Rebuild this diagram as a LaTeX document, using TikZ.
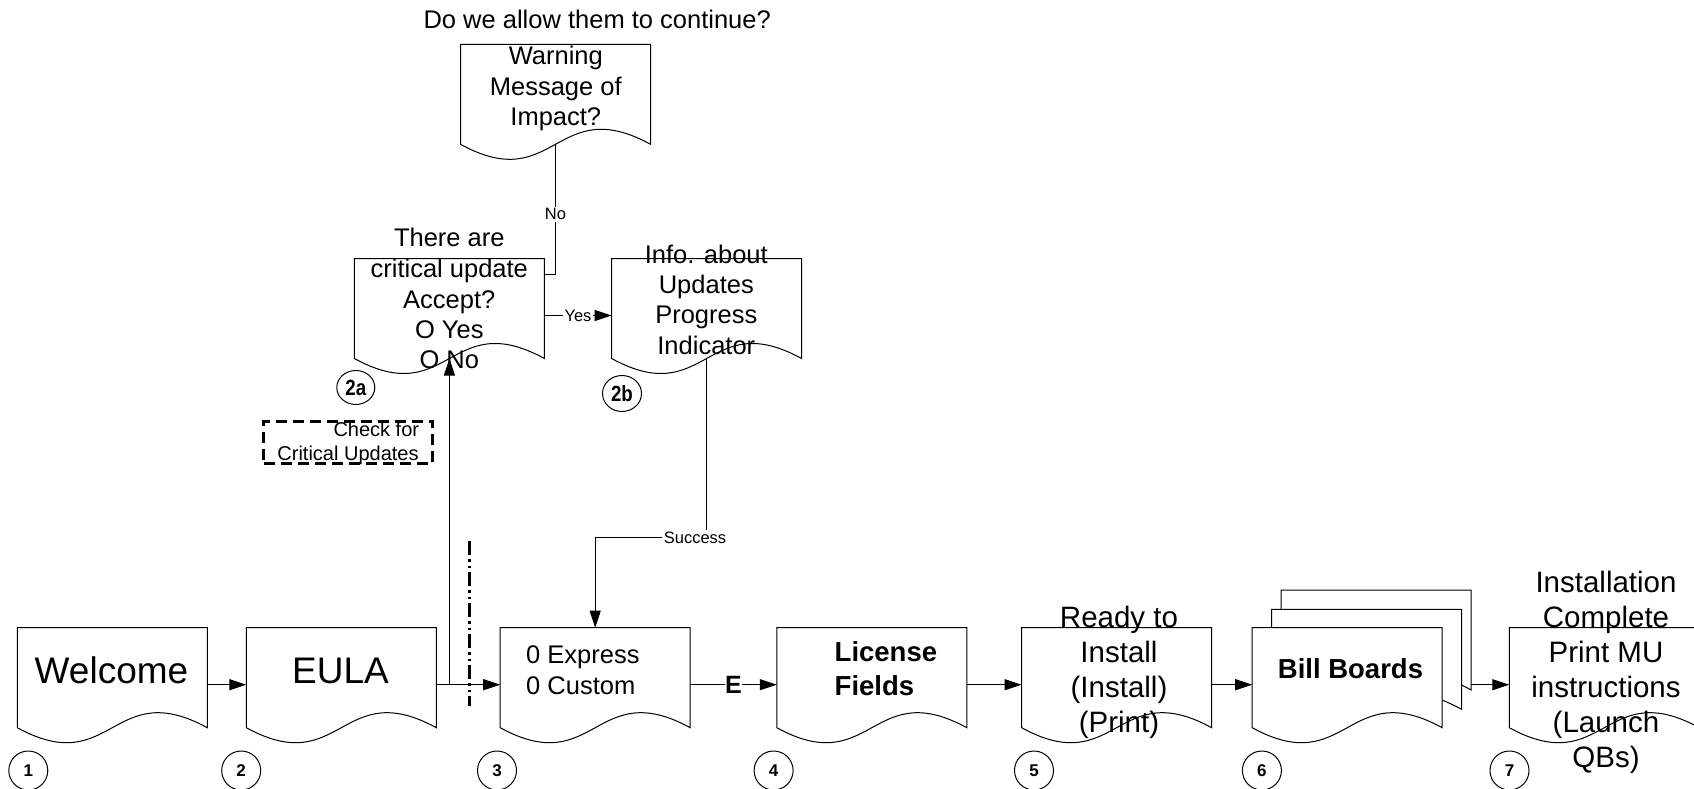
\documentclass[tikz,border=0pt]{standalone}
\usepackage{fontspec}
\setmainfont{Liberation Sans}
\newfontfamily\narrowfont[FakeStretch=0.85]{Liberation Sans}
\usetikzlibrary{arrows.meta,calc,shapes.geometric}

\newcommand\bigf{\fontsize{37}{44}\selectfont}
\newcommand\midf{\fontsize{25.5}{30}\selectfont}
\newcommand\boldf{\bfseries\fontsize{27.5}{33}\selectfont}
\newcommand\regf{\fontsize{29.5}{34}\selectfont}
\newcommand\smallf{\fontsize{16.5}{19}\selectfont}

\newcommand\docshape[1]{%
  \path[docline] (#1.north west) -- (#1.north east) -- ($(#1.north east)+(0,100)$)
    .. controls ($(#1.north)+(0,48)$) and ($(#1.north)+(0,152)$) .. ($(#1.north west)+(0,100)$) -- cycle;
  \coordinate (#1w) at ($(#1.north)+(0,100)$);}

\tikzset{
  docbox/.style={minimum width=190pt, minimum height=114pt, inner sep=0pt, outer sep=0pt},
  docline/.style={draw=black, line width=1pt, fill=white},
  conn/.style={draw=black, line width=1pt},
  arr/.style={conn, -{Triangle[length=17pt,width=11pt]}},
  numc/.style={ellipse, draw, line width=1pt, minimum width=39pt, minimum height=39pt, inner sep=0pt,
    font=\bfseries\fontsize{17}{17}\selectfont},
  numsub/.style={ellipse, draw, line width=1pt, inner sep=0pt,
    font=\narrowfont\bfseries\fontsize{22}{22}\selectfont},
  lbl/.style={fill=white, inner sep=1.5pt, font=\smallf},
  txt/.style={inner sep=0pt, anchor=base},
  dashdotline/.style={line width=3pt, dash pattern=on 14pt off 4pt on 2.5pt off 4pt on 2.5pt off 4pt},
  checkstyle/.style={draw, line width=3pt, dash pattern=on 11pt off 6pt, minimum width=169pt, minimum height=42pt, inner sep=0pt},
}

\begin{document}
\begin{tikzpicture}[x=1pt,y=-1pt]
\useasboundingbox (0,0) rectangle (1694,789);
\clip (0,0) rectangle (1694,789);

% ---------- shape nodes ----------
\node[docbox] (welcome) at (112.3,684.7) {};
\node[docbox] (eula) at (341.3,684.7) {};
\node[docbox] (choice) at (595.2,684.7) {};
\node[docbox] (license) at (871.8,684.7) {};
\node[docbox] (ready) at (1116.6,684.7) {};
\node[docbox] (bbback) at (1376.2,647) {};
\node[docbox] (bbmid) at (1366.7,666.3) {};
\node[docbox] (bbfront) at (1347.2,684.7) {};
\node[docbox] (last) at (1604.3,684.7) {};
\node[docbox] (critical) at (449.4,315.5) {};
\node[docbox] (warning) at (555.5,101.3) {};
\node[docbox] (info) at (706.6,315.5) {};

\docshape{welcome}
\docshape{eula}
\docshape{choice}
\docshape{license}
\docshape{ready}
\docshape{bbback}
\docshape{bbmid}
\docshape{bbfront}
\docshape{last}
\docshape{critical}
\docshape{warning}
\docshape{info}

% ---------- texts in shapes ----------
\node[txt, font=\bigf] (tw) at (111.5,683) {Welcome};
\node[txt, font=\bigf] (te) at (340.5,683) {EULA};
\node[txt, font=\midf, anchor=base west] (tc1) at (526,663.7) {0 Express};
\node[txt, font=\midf, anchor=base west] (tc2) at (526,694) {0 Custom};
\node[txt, font=\boldf, anchor=base west] (tl1) at (834.5,661.4) {License};
\node[txt, font=\boldf, anchor=base west] (tl2) at (834.5,695.9) {Fields};
\node[txt, font=\regf] (tr1) at (1119,627) {Ready to};
\node[txt, font=\regf] (tr2) at (1119,662) {Install};
\node[txt, font=\regf] (tr3) at (1119,697) {(Install)};
\node[txt, font=\regf] (tr4) at (1119,732) {(Print)};
\node[txt, font=\boldf] (tb) at (1350.5,678.5) {Bill Boards};
\node[txt, font=\regf] (ti1) at (1606,592) {Installation};
\node[txt, font=\regf] (ti2) at (1606,627) {Complete};
\node[txt, font=\regf] (ti3) at (1606,662) {Print MU};
\node[txt, font=\regf] (ti4) at (1606,697) {instructions};
\node[txt, font=\regf] (ti5) at (1606,732) {(Launch};
\node[txt, font=\regf] (ti6) at (1606,767) {QBs)};

\node[txt, font=\midf] (ta1) at (449.3,246.7) {There are};
\node[txt, font=\midf] (ta2) at (449.3,277.5) {critical update};
\node[txt, font=\midf] (ta3) at (449.3,308) {Accept?};
\node[txt, font=\midf] (ta4) at (449.3,338.4) {O Yes};
\node[txt, font=\midf] (ta5) at (449.3,368.8) {O No};

\node[txt, font=\midf] (tm1) at (555.8,65) {Warning};
\node[txt, font=\midf] (tm2) at (555.8,95.2) {Message of};
\node[txt, font=\midf] (tm3) at (555.8,125.4) {Impact?};

\node[txt, font=\midf] (tn1) at (706.3,263.3) {Info. about};
\node[txt, font=\midf] (tn2) at (706.3,293.5) {Updates};
\node[txt, font=\midf] (tn3) at (706.3,323.7) {Progress};
\node[txt, font=\midf] (tn4) at (706.3,354) {Indicator};

\node[txt, font=\midf] (question) at (597.2,28.3) {Do we allow them to continue?};

% ---------- check box ----------
\node[checkstyle] (checkbox) at (348,442.4) {};
\node[txt, anchor=base east, font=\fontsize{20}{24}\selectfont] (ck1) at (419.3,436) {Check for};
\node[txt, anchor=base east, font=\fontsize{20}{24}\selectfont] (ck2) at (418.8,460) {Critical Updates};

% ---------- connectors ----------
\draw[arr] (welcome.east) -- (eula.west);
\draw[arr] (eula.east) -- (choice.west);
\coordinate (split) at (critical.north |- eula.east);
\draw[arr] (split) -- (criticalw);
\draw[arr] (choice.east) -- node[lbl, font=\bfseries\fontsize{25}{30}\selectfont, inner sep=0.5pt] (elbl) {E} (license.west);
\draw[arr] (license.east) -- (ready.west);
\draw[arr] (ready.east) -- (bbfront.west);
\draw[arr] (bbback.east |- bbfront.east) -- (last.west);

\coordinate (nocorner) at ($(critical.north east)+(0,15.5)$);
\draw[conn] (warningw) |- node[lbl, pos=0.27] (nolbl) {No} (nocorner);
\draw[arr] (critical.east) -- node[lbl] (yeslbl) {Yes} (info.west);

\coordinate (succturn) at ($(infow |- choice.north)+(0,-90)$);
\draw[arr] (infow) -- (succturn) -| (choice.north);
\node[lbl] (succlbl) at ($(succturn)+(-11.6,0)$) {Success};

% ---------- dash-dot marker ----------
\coordinate (dd1) at (469,541);
\coordinate (dd2) at (469,706);
\draw[dashdotline] (dd1) -- (dd2);

% ---------- step numbers ----------
\node[numc] (n1) at (28.3,770.5) {1};
\node[numc] (n2) at (241.2,770.5) {2};
\node[numc] (n3) at (497,770.5) {3};
\node[numc] (n4) at (773.6,770.5) {4};
\node[numc] (n5) at (1034,770.5) {5};
\node[numc] (n6) at (1261.9,770.5) {6};
\node[numc] (n7) at (1509.5,770.5) {7};
\node[numsub, minimum width=38pt, minimum height=34pt] (n2a) at (355.8,387.5) {2a};
\node[numsub, minimum width=39pt, minimum height=36pt] (n2b) at (622,393.5) {2b};
\end{tikzpicture}
\end{document}
